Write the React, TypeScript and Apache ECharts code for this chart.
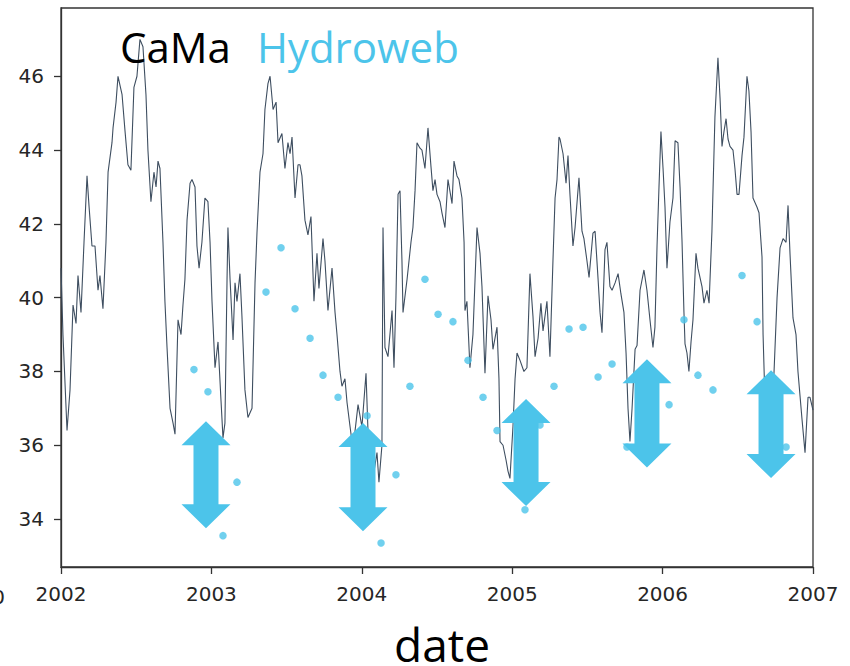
import { useEffect, useRef } from "react";
import * as echarts from "echarts";

const yTicks = [34, 36, 38, 40, 42, 44, 46];
const yearMin = 2002;
const yearMax = 2007;

// CaMa simulated water surface elevation [decimal year, m]
const camaSeries: [number, number][] = [
  [2002.000,40.8],[2002.013,39.0],[2002.040,36.4],[2002.060,37.5],[2002.080,39.8],[2002.100,39.3],[2002.113,40.6],[2002.133,39.6],[2002.153,41.5],[2002.173,43.3],[2002.186,42.5],[2002.206,41.4],[2002.226,41.4],[2002.246,40.2],[2002.259,40.6],[2002.279,39.7],[2002.299,41.5],[2002.313,43.4],[2002.339,44.2],[2002.346,44.6],[2002.366,45.3],[2002.379,46.0],[2002.406,45.5],[2002.426,44.5],[2002.445,43.6],[2002.465,43.45],[2002.485,45.7],[2002.505,46.0],[2002.525,47.0],[2002.545,46.8],[2002.565,45.5],[2002.578,44.0],[2002.598,42.6],[2002.618,43.4],[2002.632,43.0],[2002.645,43.7],[2002.658,43.5],[2002.678,41.5],[2002.691,39.9],[2002.705,38.65],[2002.725,37.0],[2002.745,36.6],[2002.758,36.3],[2002.778,39.4],[2002.798,39.0],[2002.811,39.8],[2002.824,40.5],[2002.838,42.1],[2002.858,43.1],[2002.871,43.2],[2002.891,43.0],[2002.904,41.4],[2002.918,40.8],[2002.937,41.5],[2002.957,42.7],[2002.977,42.6],[2002.991,41.5],
  [2003.004,39.9],[2003.024,38.1],[2003.044,38.8],[2003.064,37.2],[2003.077,36.2],[2003.090,36.6],[2003.104,40.5],[2003.110,41.9],[2003.124,40.5],[2003.144,38.85],[2003.157,40.4],[2003.170,39.9],[2003.190,40.65],[2003.203,39.5],[2003.223,37.5],[2003.243,36.75],[2003.270,37.0],[2003.290,40.4],[2003.303,41.75],[2003.323,43.4],[2003.343,43.9],[2003.356,45.1],[2003.376,45.8],[2003.390,46.0],[2003.410,45.1],[2003.430,45.3],[2003.443,44.2],[2003.469,44.45],[2003.489,43.5],[2003.509,44.2],[2003.523,43.9],[2003.536,44.35],[2003.556,42.7],[2003.576,43.6],[2003.589,43.6],[2003.602,43.3],[2003.622,42.1],[2003.642,41.7],[2003.662,42.2],[2003.682,39.9],[2003.702,41.2],[2003.715,40.25],[2003.742,41.6],[2003.755,41.0],[2003.775,39.65],[2003.802,40.8],[2003.822,39.6],[2003.835,39.0],[2003.855,38.0],[2003.868,37.6],[2003.888,37.8],[2003.902,37.15],[2003.922,36.5],[2003.941,35.9],[2003.961,36.6],[2003.975,37.1],
  [2004.001,36.5],[2004.028,37.95],[2004.041,36.4],[2004.061,35.5],[2004.074,35.1],[2004.101,35.8],[2004.114,35.0],[2004.134,36.0],[2004.141,41.9],[2004.154,38.65],[2004.174,38.4],[2004.201,39.65],[2004.214,38.1],[2004.227,40.0],[2004.241,42.8],[2004.254,42.9],[2004.267,41.0],[2004.274,39.6],[2004.301,40.5],[2004.327,41.5],[2004.340,41.9],[2004.354,42.9],[2004.367,44.2],[2004.387,44.05],[2004.400,44.0],[2004.420,43.5],[2004.440,44.6],[2004.460,43.55],[2004.473,42.9],[2004.487,43.2],[2004.500,42.8],[2004.520,42.6],[2004.533,42.3],[2004.553,41.9],[2004.573,43.2],[2004.600,42.55],[2004.613,43.7],[2004.633,43.3],[2004.646,43.2],[2004.666,42.7],[2004.680,41.5],[2004.686,39.65],[2004.699,39.9],[2004.719,38.1],[2004.739,39.0],[2004.753,40.5],[2004.766,41.9],[2004.786,41.2],[2004.799,40.3],[2004.819,37.95],[2004.839,40.05],[2004.859,39.4],[2004.872,38.6],[2004.899,39.2],[2004.912,37.8],[2004.919,36.1],[2004.939,36.0],[2004.959,35.6],[2004.972,35.3],[2004.985,35.1],
  [2005.005,36.5],[2005.019,37.8],[2005.032,38.5],[2005.052,38.3],[2005.078,38.0],[2005.098,38.1],[2005.118,40.65],[2005.138,39.5],[2005.152,38.4],[2005.172,38.9],[2005.191,39.85],[2005.205,39.1],[2005.231,39.9],[2005.251,38.4],[2005.271,41.0],[2005.285,42.7],[2005.298,43.2],[2005.311,44.35],[2005.318,44.3],[2005.338,43.9],[2005.358,43.1],[2005.371,43.85],[2005.384,42.8],[2005.404,41.4],[2005.418,41.9],[2005.444,43.25],[2005.464,41.8],[2005.477,41.6],[2005.497,41.0],[2005.511,40.55],[2005.537,41.75],[2005.551,41.8],[2005.571,40.5],[2005.584,39.6],[2005.597,39.05],[2005.617,41.3],[2005.630,41.5],[2005.650,40.3],[2005.664,40.2],[2005.684,40.4],[2005.704,40.65],[2005.723,40.1],[2005.743,39.6],[2005.757,38.5],[2005.770,37.0],[2005.783,36.1],[2005.797,37.0],[2005.817,38.6],[2005.830,38.7],[2005.850,40.2],[2005.876,40.75],[2005.896,40.2],[2005.916,39.4],[2005.936,38.65],[2005.949,39.2],[2005.963,41.4],[2005.976,43.0],[2005.989,44.5],
  [2006.003,43.5],[2006.016,42.45],[2006.029,40.8],[2006.049,42.05],[2006.069,42.7],[2006.083,44.25],[2006.102,44.2],[2006.116,43.0],[2006.129,41.55],[2006.142,39.6],[2006.149,38.75],[2006.162,38.5],[2006.175,38.0],[2006.189,38.8],[2006.202,39.4],[2006.222,41.2],[2006.235,40.8],[2006.262,40.3],[2006.275,39.85],[2006.295,40.2],[2006.309,39.85],[2006.328,41.8],[2006.348,44.9],[2006.368,46.5],[2006.382,45.4],[2006.395,44.1],[2006.408,44.5],[2006.422,44.85],[2006.435,44.3],[2006.448,44.1],[2006.468,44.0],[2006.481,43.5],[2006.495,42.8],[2006.508,42.8],[2006.528,43.85],[2006.541,44.35],[2006.555,45.5],[2006.561,46.0],[2006.574,45.6],[2006.588,44.5],[2006.601,42.7],[2006.628,42.45],[2006.641,42.3],[2006.661,41.1],[2006.668,39.0],[2006.681,37.15],[2006.701,36.4],[2006.721,36.6],[2006.741,38.0],[2006.761,40.0],[2006.781,41.35],[2006.801,41.6],[2006.821,41.5],[2006.834,42.5],[2006.847,41.2],[2006.867,39.45],[2006.887,39.0],[2006.900,38.0],[2006.927,36.7],[2006.947,35.8],[2006.967,37.3],[2006.980,37.3],[2007.000,36.95],
];

// Hydroweb altimetry observations
const hydrowebDates = [
  2002.884, 2002.977, 2003.077, 2003.170, 2003.363, 2003.463, 2003.556, 2003.656,
  2003.742, 2003.842, 2004.035, 2004.128, 2004.227, 2004.320, 2004.420, 2004.507,
  2004.606, 2004.706, 2004.806, 2004.899, 2005.085, 2005.185, 2005.278, 2005.378,
  2005.471, 2005.571, 2005.664, 2005.763, 2006.043, 2006.142, 2006.235, 2006.335,
  2006.528, 2006.628, 2006.821,
];
const hydrowebWse = [
  38.05, 37.45, 33.55, 35.0, 40.15, 41.35, 39.7, 38.9,
  37.9, 37.3, 36.8, 33.35, 35.2, 37.6, 40.5, 39.55,
  39.35, 38.3, 37.3, 36.4, 34.25, 36.55, 37.6, 39.15,
  39.2, 37.85, 38.2, 35.95, 37.1, 39.4, 37.9, 37.5,
  40.6, 39.35, 35.95,
];

// double-headed arrow annotations (date, upper tip, lower tip)
const arrowDates = [2002.964, 2004.008, 2005.092, 2005.896, 2006.721];
const arrowTop = [36.65, 36.6, 37.25, 38.33, 38.03];
const arrowBottom = [33.75, 33.67, 34.35, 35.4, 35.11];

const BLUE = "#4cc4ea";
const LINE = "#3e4e60";
const FRAME = "#333333";

export default function App() {
  const ref = useRef<HTMLDivElement>(null);
  useEffect(() => {
    const chart = echarts.init(ref.current!, null, { renderer: "svg" });
    chart.setOption({
      animation: false,
      backgroundColor: "#ffffff",
      grid: {
        left: 61,
        right: 37,
        top: 8,
        bottom: 99,
        show: true,
        borderColor: FRAME,
        borderWidth: 1.3,
        containLabel: false,
        outerBoundsMode: "none",
      },
      legend: {
        data: [
          { name: "CaMa", textStyle: { color: "#000000" } },
          { name: "Hydroweb", textStyle: { color: BLUE } },
        ],
        icon: "none",
        itemWidth: 0,
        itemGap: 21,
        left: 110,
        top: 20,
        selectedMode: false,
        textStyle: { fontFamily: "Open Sans", fontSize: 42 },
      },
      xAxis: {
        type: "value",
        min: yearMin,
        max: yearMax,
        interval: 1,
        name: "date",
        nameLocation: "middle",
        nameGap: 58,
        nameTextStyle: {
          fontFamily: "Open Sans",
          fontSize: 46,
          lineHeight: 38,
          color: "#000000",
          padding: [0, 0, 0, 10],
        },
        axisLine: { show: true, onZero: false, lineStyle: { color: FRAME, width: 1.3 } },
        axisTick: { show: true, length: 7, lineStyle: { color: FRAME, width: 1.3 } },
        axisLabel: {
          fontFamily: "DejaVu Sans",
          fontSize: 20,
          color: "#262626",
          margin: 17,
          formatter: (v: number) => String(Math.round(v)),
        },
        splitLine: { show: false },
      },
      yAxis: {
        type: "value",
        min: 32.7,
        max: 47.85,
        axisLine: { show: true, onZero: false, lineStyle: { color: FRAME, width: 1.3 } },
        axisTick: { show: true, length: 7, customValues: yTicks, lineStyle: { color: FRAME, width: 1.3 } },
        axisLabel: {
          customValues: yTicks,
          fontFamily: "DejaVu Sans",
          fontSize: 20,
          color: "#262626",
          margin: 17,
        },
        splitLine: { show: false },
      },
      graphic: [
        {
          type: "text",
          x: 5,
          y: 597,
          style: {
            text: "0",
            font: "20px 'DejaVu Sans'",
            fill: "#262626",
            align: "right",
            verticalAlign: "middle",
          },
        },
      ],
      series: [
        {
          name: "CaMa",
          type: "line",
          data: camaSeries,
          showSymbol: false,
          symbol: "none",
          lineStyle: { color: LINE, width: 1.1 },
          itemStyle: { color: LINE },
          z: 2,
        },
        {
          name: "Hydroweb",
          type: "scatter",
          data: hydrowebDates.map((d, i) => [d, hydrowebWse[i]]),
          symbolSize: 7.5,
          itemStyle: { color: BLUE },
          z: 3,
        },
        {
          type: "custom",
          coordinateSystem: "cartesian2d",
          silent: true,
          z: 5,
          encode: { x: 0, y: [1, 2] },
          data: arrowDates.map((d, i) => [d, arrowTop[i], arrowBottom[i]]),
          renderItem: (_params: any, api: any) => {
            const top = api.coord([api.value(0), api.value(1)]);
            const bot = api.coord([api.value(0), api.value(2)]);
            const cx = top[0];
            const ty = top[1];
            const by = bot[1];
            const hl = 24;
            const hw = 24.5;
            const bw = 12.5;
            return {
              type: "polygon",
              shape: {
                points: [
                  [cx, ty],
                  [cx + hw, ty + hl],
                  [cx + bw, ty + hl],
                  [cx + bw, by - hl],
                  [cx + hw, by - hl],
                  [cx, by],
                  [cx - hw, by - hl],
                  [cx - bw, by - hl],
                  [cx - bw, ty + hl],
                  [cx - hw, ty + hl],
                ],
              },
              style: { fill: BLUE },
            };
          },
        },
      ],
    });
    return () => chart.dispose();
  }, []);
  return (
    <div
      ref={ref}
      style={{ position: "fixed", left: 0, top: 0, width: 850, height: 666 }}
    />
  );
}
